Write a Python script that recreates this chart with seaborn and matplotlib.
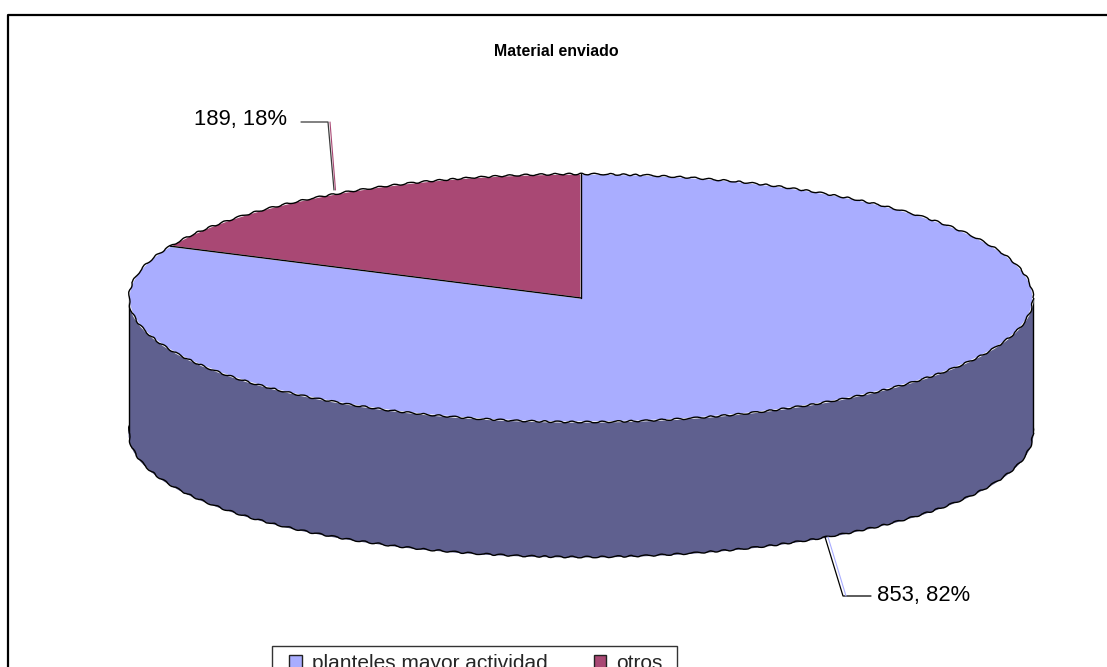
import matplotlib
matplotlib.use("Agg")
import matplotlib.pyplot as plt
from matplotlib.lines import Line2D
from matplotlib.patches import Rectangle
import numpy as np
import seaborn as sns

categories = ["planteles mayor actividad", "otros"]
values = [853, 189]
percents = [82, 18]
top_colors = ["#A9ADFF", "#A94874"]
side_colors = ["#5F608F", "#5F608F"]
title = "Material enviado"

W, H = 1107, 667
depth = 135 / 124  # wall height, in pie radii

sns.set_theme(style="white")
plt.rcParams["font.family"] = ["Liberation Sans", "DejaVu Sans"]


def fx(x):
    return x / W


def fy(y):
    return 1 - y / H


def outline(ax, center, z):
    # rough edge of the ellipse, as in the low-res original
    ring, _ = ax.pie([1], colors=["none"], radius=1, center=center,
                     wedgeprops={"edgecolor": "black", "linewidth": 1.0})
    ring[0].set_facecolor("none")
    ring[0].set_zorder(z)
    ring[0].set_sketch_params(scale=0.8, length=16, randomness=2)


fig = plt.figure(figsize=(W / 100, H / 100), dpi=100, facecolor="white")

# pie squashed into an ellipse: 129..1033 wide, 174 top, 557 bottom
ax = fig.add_axes([fx(129), fy(557), (1033 - 129) / W, (557 - 174) / H])

low, _ = ax.pie(values, colors=side_colors, startangle=90, counterclock=False,
                radius=1, center=(0, -depth),
                wedgeprops={"edgecolor": side_colors[0], "linewidth": 0.8})
outline(ax, (0, -depth), 1.5)
ax.fill_between([-1, 1], -depth, 0, color=side_colors[0], lw=0, zorder=2)
ax.vlines([-1, 1], -depth, 0, color="black", lw=1.0, zorder=3)
top, _ = ax.pie(values, colors=top_colors, startangle=90, counterclock=False,
                radius=1, center=(0, 0))
for w in top:
    w.set_zorder(4)
outline(ax, (0, 0), 5)

# straight edges between the two slices
angle = np.deg2rad(90 + 360 * values[1] / sum(values))
ax.plot([0, 0], [0, 1], color="black", lw=1.0, zorder=5)
ax.plot([0, np.cos(angle)], [0, np.sin(angle)], color="black", lw=1.0, zorder=5)

ax.set_aspect("auto")
ax.set_xlim(-1, 1)
ax.set_ylim(-1 - depth, 1)
ax.axis("off")
for a in ax.patches + ax.collections + ax.lines:
    a.set_clip_on(False)

# outer chart frame, runs off the right and bottom of the image
fig.add_artist(Line2D([fx(8), fx(8), 1], [0, fy(15), fy(15)], color="black", lw=1.6))

fig.text(fx(556), fy(51), title, ha="center", va="center", fontsize=11.4,
         fontweight="bold", color="black")

# leader lines and data labels
fig.add_artist(Line2D([fx(301), fx(328), fx(334)], [fy(122), fy(122), fy(190)],
                      color="#3a3a3a", lw=0.9))
fig.add_artist(Line2D([fx(330), fx(335.5)], [fy(122), fy(190)], color=top_colors[1], lw=0.8))
fig.add_artist(Line2D([fx(825), fx(843), fx(871)], [fy(537), fy(596), fy(596)],
                      color="black", lw=0.9))
fig.add_artist(Line2D([fx(828), fx(846)], [fy(537), fy(596)], color=top_colors[0], lw=0.8))

fig.text(fx(194), fy(120), f"{values[1]}, {percents[1]}%", ha="left", va="center",
         fontsize=15.8, color="black")
fig.text(fx(877), fy(596), f"{values[0]}, {percents[0]}%", ha="left", va="center",
         fontsize=15.8, color="black")

# legend box, cut by the bottom of the image
fig.add_artist(Rectangle((fx(272), fy(690)), (677 - 272) / W, (690 - 646) / H,
                         transform=fig.transFigure, facecolor="white",
                         edgecolor="#333333", lw=1.0))
leg = fig.legend(top, categories, ncol=2, loc="upper left",
                 bbox_to_anchor=(fx(289), fy(654)), bbox_transform=fig.transFigure,
                 fontsize=15, frameon=False, borderaxespad=0, borderpad=0,
                 handlelength=0.62, handleheight=0.62, handletextpad=0.48,
                 columnspacing=2.2)
for h in leg.legend_handles:
    h.set_edgecolor("#222222")
    h.set_linewidth(1.0)

fig.savefig("out.png", dpi=100)
